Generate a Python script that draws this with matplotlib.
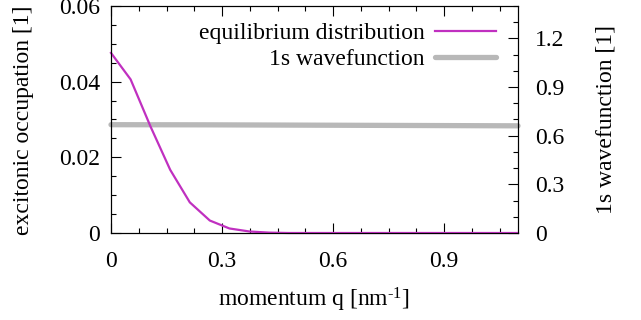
import matplotlib
matplotlib.use("Agg")
import matplotlib.pyplot as plt
from matplotlib.ticker import MultipleLocator

plt.rcParams['font.family'] = ['Liberation Serif', 'DejaVu Serif']
plt.rcParams['mathtext.fontset'] = 'custom'
plt.rcParams['mathtext.rm'] = 'Liberation Serif'
plt.rcParams['mathtext.it'] = 'Liberation Serif:italic'

# momentum grid [nm^-1]
q = [0.0, 0.053, 0.107, 0.160, 0.213, 0.267, 0.320, 0.374, 0.427, 0.480,
     0.534, 0.587, 0.640, 0.694, 0.747, 0.800, 0.854, 0.907, 0.960, 1.014,
     1.067, 1.100]
# equilibrium excitonic occupation
occupation = [0.0476, 0.0406, 0.0281, 0.0167, 0.0081, 0.0033, 0.0012, 0.0004,
              0.0001, 0.0, 0.0, 0.0, 0.0, 0.0, 0.0, 0.0, 0.0, 0.0, 0.0, 0.0,
              0.0, 0.0]
# 1s wavefunction
q_wf = [0.0, 0.275, 0.55, 0.825, 1.1]
wavefunction = [0.668, 0.667, 0.665, 0.663, 0.661]

xticks = [0, 0.3, 0.6, 0.9]
xticklabels = ['0', '0.3', '0.6', '0.9']
yticks = [0, 0.02, 0.04, 0.06]
yticklabels = ['0', '0.02', '0.04', '0.06']
y2ticks = [0, 0.3, 0.6, 0.9, 1.2]
y2ticklabels = ['0', '0.3', '0.6', '0.9', '1.2']

fs = 17
magenta = '#c030c0'
gray = '#b8b8b8'

fig = plt.figure(figsize=(6.41, 3.20), dpi=100)
ax = fig.add_axes([111/641, 1 - 233/320, (518 - 111)/641, (233 - 6)/320])
ax2 = ax.twinx()
ax.set_zorder(ax2.get_zorder() + 1)
ax.patch.set_visible(False)

l1, = ax.plot(q, occupation, color=magenta, lw=1.6, clip_on=False,
              label='equilibrium distribution')
l2, = ax2.plot(q_wf, wavefunction, color=gray, lw=3.8, solid_capstyle='round',
               clip_on=False, label='1s wavefunction')

ax.set_xlim(0, 1.1)
ax.set_ylim(0, 0.06)
ax2.set_ylim(0, 1.4)

ax.set_xticks(xticks)
ax.set_xticklabels(xticklabels)
ax.set_yticks(yticks)
ax.set_yticklabels(yticklabels)
ax2.set_yticks(y2ticks)
ax2.set_yticklabels(y2ticklabels)
ax.xaxis.set_minor_locator(MultipleLocator(0.075))
ax.yaxis.set_minor_locator(MultipleLocator(0.005))
ax2.yaxis.set_minor_locator(MultipleLocator(0.1))

ax.tick_params(which='both', direction='in', top=True, right=False,
               labelsize=fs, width=0.8)
ax.tick_params(which='major', length=7)
ax.tick_params(which='minor', length=3.5)
ax.tick_params(axis='y', pad=8)
ax.tick_params(axis='x', pad=13)
ax2.tick_params(which='both', direction='in', labelsize=fs, width=0.8, pad=12)
ax2.tick_params(which='major', length=7)
ax2.tick_params(which='minor', length=3.5)

for a in (ax, ax2):
    for s in a.spines.values():
        s.set_linewidth(0.8)

fig.text(24/641, 1 - 120/320, 'excitonic occupation [1]', rotation=90,
         ha='center', va='center', fontsize=fs)
fig.text(606/641, 1 - 120/320, '1s wavefunction [1]', rotation=90,
         ha='center', va='center', fontsize=fs)
fig.text(314/641, 1 - 300/320, 'momentum q [nm$^{\\text{-1}}$]',
         ha='center', va='center', fontsize=fs)

ax.legend(handles=[l1, l2], loc='upper right', frameon=False, markerfirst=False,
          fontsize=fs, handlelength=2.55, handletextpad=0.47, labelspacing=0.2,
          borderaxespad=0, bbox_to_anchor=(505/641, 1 - 13/320),
          bbox_transform=fig.transFigure)

fig.savefig('out.png', dpi=100)
